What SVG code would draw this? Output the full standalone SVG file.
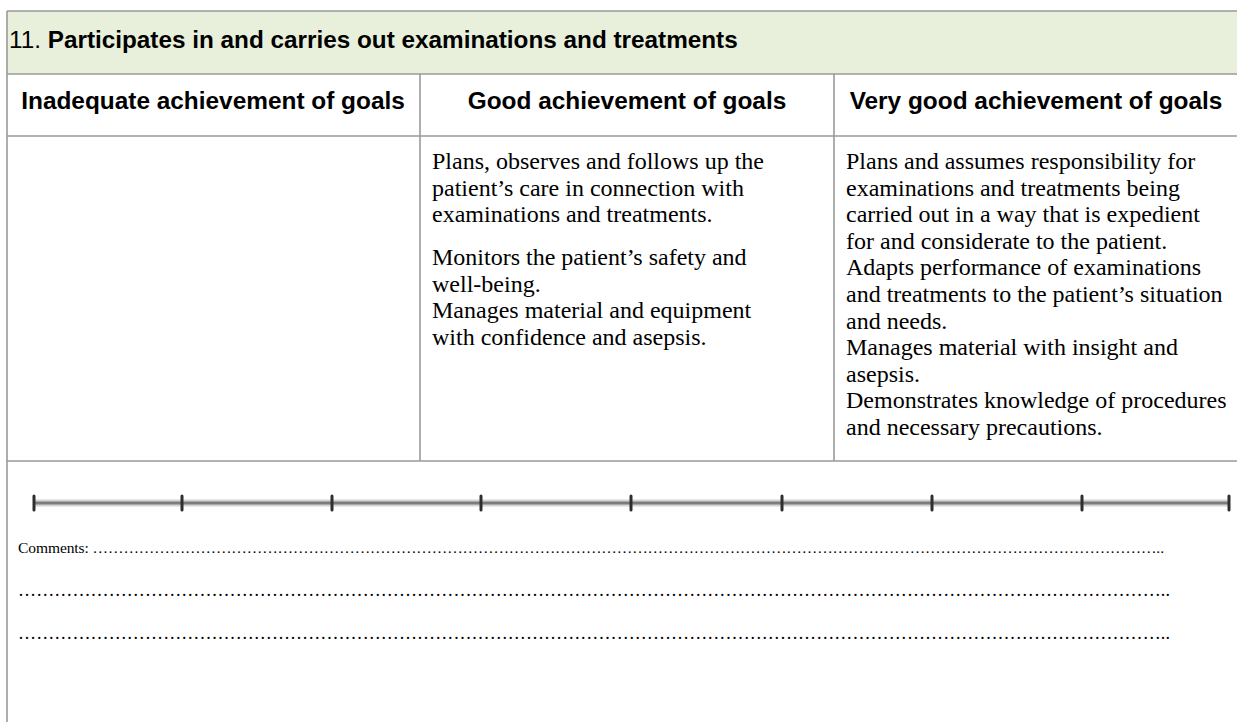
<svg xmlns="http://www.w3.org/2000/svg" width="1237" height="722" viewBox="0 0 1237 722">
<style>
.border{stroke:#9a9a9a;stroke-width:1.6;fill:none}
.title{font-family:"Liberation Sans",Arial,sans-serif;font-size:24.3px;fill:#000}
.hdr{font-family:"Liberation Sans",Arial,sans-serif;font-size:24.4px;font-weight:bold;fill:#000;text-anchor:middle}
.body{font-family:"Liberation Serif","Times New Roman",serif;font-size:24px;fill:#000}
.cmt{font-family:"Liberation Serif","Times New Roman",serif;font-size:15.5px;fill:#000}
.dots{font-family:"Liberation Serif","Times New Roman",serif;font-size:18px;fill:#000}
.tick{stroke:#2e2e2e;stroke-width:3;stroke-linecap:round}
</style>
<rect width="1237" height="722" fill="#ffffff"/>
<g id="title-band">
<rect x="7" y="11" width="1230" height="63" fill="#e8f0dc"/>
<text class="title" x="9" y="48">11. <tspan font-weight="bold">Participates in and carries out examinations and treatments</tspan></text>
</g>
<g id="grid">
<line class="border" x1="7" y1="11" x2="1237" y2="11"/>
<line class="border" x1="7" y1="74" x2="1237" y2="74"/>
<line class="border" x1="7" y1="136" x2="1237" y2="136"/>
<line class="border" x1="7" y1="461" x2="1237" y2="461"/>
<line class="border" x1="7" y1="11" x2="7" y2="722"/>
<line class="border" x1="420" y1="74" x2="420" y2="461"/>
<line class="border" x1="834" y1="74" x2="834" y2="461"/>
</g>
<g id="col-inadequate">
<text class="hdr" x="213" y="109">Inadequate achievement of goals</text>
</g>
<g id="col-good">
<text class="hdr" x="627" y="109">Good achievement of goals</text>
<text class="body" x="432" y="169">Plans, observes and follows up the</text>
<text class="body" x="432" y="195.6">patient’s care in connection with</text>
<text class="body" x="432" y="222.2">examinations and treatments.</text>
<text class="body" x="432" y="265">Monitors the patient’s safety and</text>
<text class="body" x="432" y="291.6">well-being.</text>
<text class="body" x="432" y="318.2">Manages material and equipment</text>
<text class="body" x="432" y="344.8">with confidence and asepsis.</text>
</g>
<g id="col-verygood">
<text class="hdr" x="1036" y="109">Very good achievement of goals</text>
<text class="body" x="846" y="169">Plans and assumes responsibility for</text>
<text class="body" x="846" y="195.6">examinations and treatments being</text>
<text class="body" x="846" y="222.2">carried out in a way that is expedient</text>
<text class="body" x="846" y="248.8">for and considerate to the patient.</text>
<text class="body" x="846" y="275.4">Adapts performance of examinations</text>
<text class="body" x="846" y="302">and treatments to the patient’s situation</text>
<text class="body" x="846" y="328.6">and needs.</text>
<text class="body" x="846" y="355.2">Manages material with insight and</text>
<text class="body" x="846" y="381.8">asepsis.</text>
<text class="body" x="846" y="408.4">Demonstrates knowledge of procedures</text>
<text class="body" x="846" y="435">and necessary precautions.</text>
</g>
<g id="scale">
<line x1="34" y1="503" x2="1229" y2="503" stroke="#d4d4d4" stroke-width="7"/>
<line x1="34" y1="503" x2="1229" y2="503" stroke="#7c7c7c" stroke-width="3"/>
<line class="tick" x1="34" y1="496" x2="34" y2="510"/>
<line class="tick" x1="182" y1="496" x2="182" y2="510"/>
<line class="tick" x1="332" y1="496" x2="332" y2="510"/>
<line class="tick" x1="481" y1="496" x2="481" y2="510"/>
<line class="tick" x1="631" y1="496" x2="631" y2="510"/>
<line class="tick" x1="782" y1="496" x2="782" y2="510"/>
<line class="tick" x1="932" y1="496" x2="932" y2="510"/>
<line class="tick" x1="1082" y1="496" x2="1082" y2="510"/>
<line class="tick" x1="1229" y1="496" x2="1229" y2="510"/>
</g>
<g id="comments">
<text class="cmt" x="18" y="553" textLength="1146" lengthAdjust="spacing">Comments: &#8230;&#8230;&#8230;&#8230;&#8230;&#8230;&#8230;&#8230;&#8230;&#8230;&#8230;&#8230;&#8230;&#8230;&#8230;&#8230;&#8230;&#8230;&#8230;&#8230;&#8230;&#8230;&#8230;&#8230;&#8230;&#8230;&#8230;&#8230;&#8230;&#8230;&#8230;&#8230;&#8230;&#8230;&#8230;&#8230;&#8230;&#8230;&#8230;&#8230;&#8230;&#8230;&#8230;&#8230;&#8230;&#8230;&#8230;&#8230;&#8230;&#8230;&#8230;&#8230;&#8230;&#8230;&#8230;&#8230;&#8230;&#8230;&#8230;&#8230;&#8230;&#8230;&#8230;&#8230;&#8230;&#8230;&#8230;&#8230;&#8230;..</text>
<text class="dots" x="18" y="596" textLength="1152" lengthAdjust="spacing">&#8230;&#8230;&#8230;&#8230;&#8230;&#8230;&#8230;&#8230;&#8230;&#8230;&#8230;&#8230;&#8230;&#8230;&#8230;&#8230;&#8230;&#8230;&#8230;&#8230;&#8230;&#8230;&#8230;&#8230;&#8230;&#8230;&#8230;&#8230;&#8230;&#8230;&#8230;&#8230;&#8230;&#8230;&#8230;&#8230;&#8230;&#8230;&#8230;&#8230;&#8230;&#8230;&#8230;&#8230;&#8230;&#8230;&#8230;&#8230;&#8230;&#8230;&#8230;&#8230;&#8230;&#8230;&#8230;&#8230;&#8230;&#8230;&#8230;&#8230;&#8230;&#8230;&#8230;..</text>
<text class="dots" x="18" y="639" textLength="1152" lengthAdjust="spacing">&#8230;&#8230;&#8230;&#8230;&#8230;&#8230;&#8230;&#8230;&#8230;&#8230;&#8230;&#8230;&#8230;&#8230;&#8230;&#8230;&#8230;&#8230;&#8230;&#8230;&#8230;&#8230;&#8230;&#8230;&#8230;&#8230;&#8230;&#8230;&#8230;&#8230;&#8230;&#8230;&#8230;&#8230;&#8230;&#8230;&#8230;&#8230;&#8230;&#8230;&#8230;&#8230;&#8230;&#8230;&#8230;&#8230;&#8230;&#8230;&#8230;&#8230;&#8230;&#8230;&#8230;&#8230;&#8230;&#8230;&#8230;&#8230;&#8230;&#8230;&#8230;&#8230;&#8230;..</text>
</g>
</svg>
